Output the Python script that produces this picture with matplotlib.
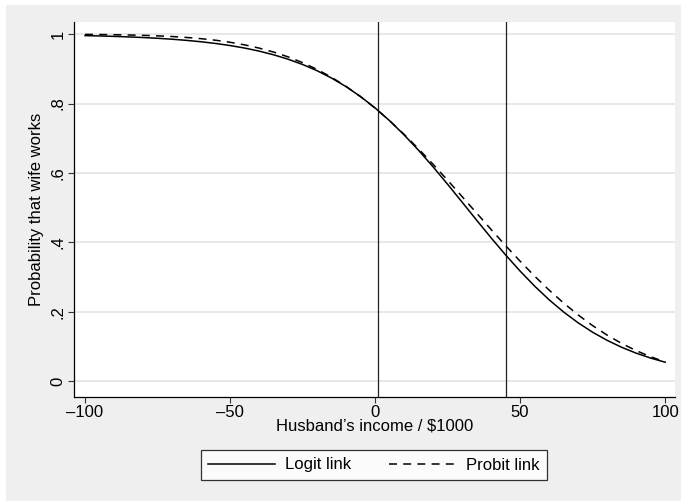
import matplotlib
matplotlib.use('Agg')
import matplotlib.pyplot as plt
from matplotlib.lines import Line2D
from matplotlib.patches import Rectangle

plt.rcParams['font.family'] = ['Liberation Sans', 'DejaVu Sans']

# husband's income grid and fitted probabilities
income = [-100, -95, -90, -85, -80, -75, -70, -65, -60, -55, -50,
          -45, -40, -35, -30, -25, -20, -15, -10, -5, 0,
          5, 10, 15, 20, 25, 30, 35, 40, 45, 50,
          55, 60, 65, 70, 75, 80, 85, 90, 95, 100]

p_logit = [0.9958, 0.9948, 0.9936, 0.9921, 0.9903, 0.9881, 0.9854, 0.9821, 0.9781, 0.9732, 0.9672,
           0.9600, 0.9512, 0.9406, 0.9279, 0.9127, 0.8947, 0.8735, 0.8488, 0.8201, 0.7875,
           0.7508, 0.7099, 0.6654, 0.6178, 0.5677, 0.5162, 0.4644, 0.4134, 0.3641, 0.3176,
           0.2744, 0.2350, 0.1998, 0.1687, 0.1415, 0.1182, 0.0982, 0.0813, 0.0671, 0.0552]

p_probit = [0.9993, 0.9989, 0.9984, 0.9976, 0.9966, 0.9951, 0.9932, 0.9905, 0.9870, 0.9825, 0.9766,
            0.9692, 0.9599, 0.9485, 0.9346, 0.9180, 0.8985, 0.8757, 0.8495, 0.8200, 0.7870,
            0.7507, 0.7114, 0.6695, 0.6252, 0.5793, 0.5322, 0.4847, 0.4374, 0.3910, 0.3461,
            0.3032, 0.2629, 0.2256, 0.1914, 0.1606, 0.1332, 0.1093, 0.0886, 0.0709, 0.0561]

vlines = [1, 45]

xticks = [-100, -50, 0, 50, 100]
xticklabels = ['\u2013100', '\u201350', '0', '50', '100']
yticks = [0, 0.2, 0.4, 0.6, 0.8, 1]
yticklabels = ['0', '.2', '.4', '.6', '.8', '1']

bg = '#efefef'
dash = (0, (5.2, 4.1))

fig = plt.figure(figsize=(6.81, 5.01), dpi=100, facecolor=bg)
# thin white strips along the top and left edges
fig.patches.append(Rectangle((0, 0), 6/681, 1, transform=fig.transFigure,
                             facecolor='white', edgecolor='none', zorder=-10))
fig.patches.append(Rectangle((0, 1 - 5/501), 1, 5/501, transform=fig.transFigure,
                             facecolor='white', edgecolor='none', zorder=-10))

ax = fig.add_axes([74/681, 104/501, 601/681, 375/501])
ax.set_facecolor('white')

for y in yticks:
    ax.axhline(y, color='#e4e4e4', lw=1.2, zorder=0)
for v in vlines:
    ax.axvline(v, color='#222222', lw=0.9, zorder=1)

ax.plot(income, p_logit, color='black', lw=1.1, solid_joinstyle='round', zorder=3)
ax.plot(income, p_probit, color='black', lw=1.1, linestyle=dash, zorder=3)

ax.set_xlim(-103.8, 103.4)
ax.set_ylim(-0.045, 1.035)
ax.set_xticks(xticks)
ax.set_xticklabels(xticklabels)
ax.set_yticks(yticks)
ax.set_yticklabels(yticklabels, rotation=90, va='center')
ax.tick_params(axis='both', direction='out', length=4.5, width=0.8, labelsize=12,
               color='#333333', pad=1.5)

for s in ['top', 'right']:
    ax.spines[s].set_visible(False)
for s in ['left', 'bottom']:
    ax.spines[s].set_linewidth(0.9)

ax.set_xlabel('Husband\u2019s income / $1000', fontsize=12, labelpad=-1)
ax.set_ylabel('Probability that wife works', fontsize=12, labelpad=5)

handles = [Line2D([], [], color='black', lw=1.1),
           Line2D([], [], color='black', lw=1.1, linestyle=dash)]
leg = fig.legend(handles, ['Logit link', 'Probit link'], loc='center',
                 bbox_to_anchor=(374/681, 1 - 465/501), ncol=2, fontsize=12,
                 frameon=True, fancybox=False, edgecolor='black',
                 handlelength=4.0, columnspacing=2.3, handletextpad=0.6,
                 borderpad=0.45, borderaxespad=0)
leg.get_frame().set_linewidth(0.9)

fig.savefig('out.png', dpi=100, facecolor=bg)
